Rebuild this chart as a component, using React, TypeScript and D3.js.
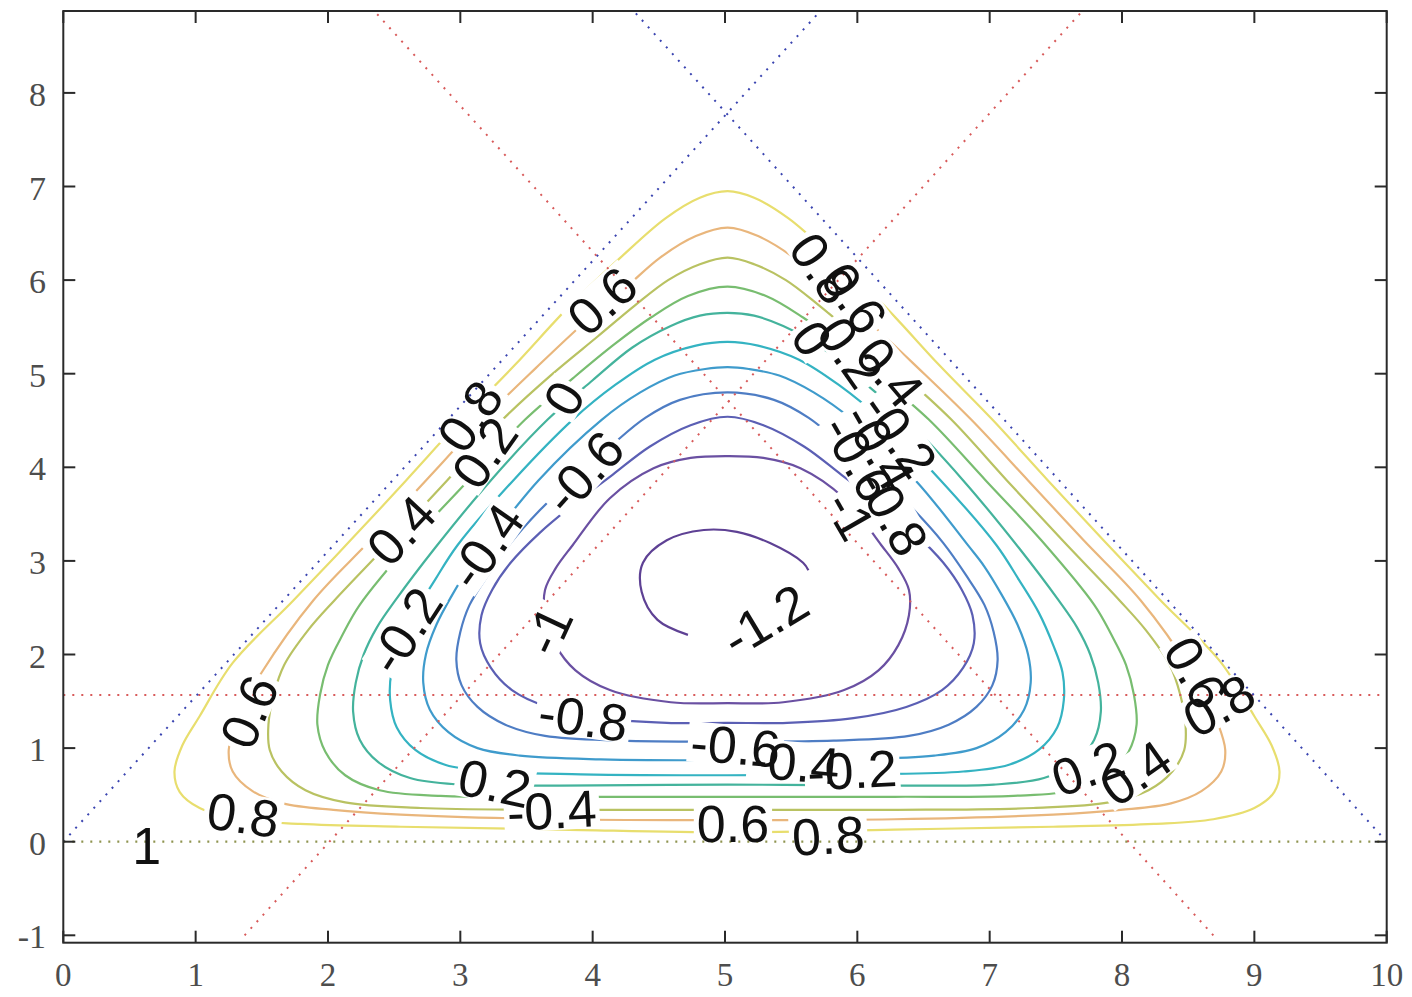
import React, { useRef, useEffect } from "react";
import * as d3 from "d3";

const xTicks = [0, 1, 2, 3, 4, 5, 6, 7, 8, 9, 10];
const yTicks = [-1, 0, 1, 2, 3, 4, 5, 6, 7, 8];

// contour lines, [x, y] in data units
const level08 = [[5.02,0.10],[3.75,0.13],[2.55,0.16],[1.79,0.19],[1.34,0.24],[1.03,0.36],[0.88,0.53],[0.84,0.75],[0.90,1.03],[1.03,1.34],[1.28,1.91],[1.74,2.58],[2.17,3.22],[2.59,3.86],[3.01,4.51],[3.41,5.09],[3.83,5.73],[4.21,6.24],[4.55,6.66],[4.81,6.88],[5.02,6.95],
  [5.22,6.88],[5.48,6.66],[5.82,6.24],[6.20,5.73],[6.62,5.09],[7.02,4.51],[7.44,3.86],[7.86,3.22],[8.29,2.58],[8.75,1.91],[9.00,1.34],[9.13,1.03],[9.19,0.75],[9.15,0.53],[9.00,0.36],[8.69,0.24],[8.24,0.19],[7.48,0.16],[6.28,0.13]];
const level06 = [[5.02,0.23],[3.75,0.24],[2.55,0.29],[2.04,0.34],[1.66,0.41],[1.43,0.54],[1.28,0.75],[1.25,0.98],[1.31,1.28],[1.40,1.55],[1.50,1.81],[1.89,2.58],[2.32,3.22],[2.74,3.86],[3.17,4.51],[3.57,5.06],[3.94,5.55],[4.25,5.92],[4.51,6.24],[4.78,6.47],[5.02,6.56],
  [5.25,6.47],[5.52,6.24],[5.78,5.92],[6.09,5.55],[6.46,5.06],[6.86,4.51],[7.29,3.86],[7.71,3.22],[8.14,2.58],[8.53,1.81],[8.63,1.55],[8.72,1.28],[8.78,0.98],[8.75,0.75],[8.60,0.54],[8.37,0.41],[7.99,0.34],[7.48,0.29],[6.28,0.24]];
const level04 = [[5.02,0.34],[3.75,0.34],[2.70,0.36],[2.13,0.42],[1.83,0.55],[1.65,0.75],[1.56,0.98],[1.55,1.25],[1.59,1.57],[1.67,1.89],[1.85,2.26],[2.05,2.58],[2.48,3.22],[2.90,3.86],[3.32,4.51],[3.69,4.99],[4.04,5.40],[4.32,5.73],[4.57,6.00],[4.81,6.17],[5.02,6.24],
  [5.22,6.17],[5.46,6.00],[5.71,5.73],[5.99,5.40],[6.34,4.99],[6.71,4.51],[7.13,3.86],[7.55,3.22],[7.98,2.58],[8.18,2.26],[8.36,1.89],[8.44,1.57],[8.48,1.25],[8.47,0.98],[8.38,0.75],[8.20,0.55],[7.90,0.42],[7.33,0.36],[6.28,0.34]];
const level02 = [[5.02,0.48],[3.75,0.48],[2.85,0.49],[2.39,0.55],[2.13,0.71],[1.98,0.96],[1.92,1.25],[1.94,1.57],[2.00,1.89],[2.11,2.21],[2.24,2.53],[2.64,3.22],[3.06,3.86],[3.49,4.51],[3.85,4.95],[4.16,5.31],[4.44,5.60],[4.72,5.83],[5.02,5.93],
  [5.31,5.83],[5.59,5.60],[5.87,5.31],[6.18,4.95],[6.54,4.51],[6.97,3.86],[7.39,3.22],[7.79,2.53],[7.92,2.21],[8.03,1.89],[8.09,1.57],[8.11,1.25],[8.05,0.96],[7.90,0.71],[7.64,0.55],[7.18,0.49],[6.28,0.48]];
const level00 = [[5.02,0.61],[3.75,0.60],[3.00,0.61],[2.62,0.68],[2.38,0.85],[2.24,1.09],[2.19,1.39],[2.21,1.70],[2.27,2.00],[2.37,2.29],[2.51,2.58],[2.81,3.14],[3.23,3.86],[3.66,4.51],[4.00,4.93],[4.30,5.28],[4.59,5.51],[4.81,5.62],[5.02,5.65],
  [5.22,5.62],[5.44,5.51],[5.73,5.28],[6.03,4.93],[6.37,4.51],[6.80,3.86],[7.22,3.14],[7.52,2.58],[7.66,2.29],[7.76,2.00],[7.82,1.70],[7.84,1.39],[7.79,1.09],[7.65,0.85],[7.41,0.68],[7.03,0.61],[6.28,0.60]];
const levelM02 = [[5.02,0.71],[3.91,0.72],[3.23,0.75],[2.89,0.82],[2.66,0.98],[2.52,1.22],[2.47,1.51],[2.48,1.81],[2.55,2.10],[2.66,2.45],[2.81,2.80],[2.98,3.17],[3.40,3.86],[3.85,4.51],[4.17,4.88],[4.47,5.15],[4.78,5.30],[5.02,5.34],
  [5.25,5.30],[5.56,5.15],[5.86,4.88],[6.18,4.51],[6.63,3.86],[7.05,3.17],[7.22,2.80],[7.37,2.45],[7.48,2.10],[7.55,1.81],[7.56,1.51],[7.51,1.22],[7.37,0.98],[7.14,0.82],[6.80,0.75],[6.12,0.72]];
const levelM04 = [[5.02,0.87],[4.06,0.88],[3.45,0.92],[3.13,1.00],[2.91,1.17],[2.77,1.41],[2.72,1.70],[2.74,2.00],[2.82,2.32],[2.94,2.64],[3.07,2.94],[3.19,3.16],[3.59,3.86],[4.07,4.51],[4.36,4.80],[4.62,4.98],[4.85,5.05],[5.02,5.07],
  [5.18,5.05],[5.41,4.98],[5.67,4.80],[5.96,4.51],[6.44,3.86],[6.84,3.16],[6.96,2.94],[7.09,2.64],[7.21,2.32],[7.29,2.00],[7.31,1.70],[7.26,1.41],[7.12,1.17],[6.90,1.00],[6.58,0.92],[5.97,0.88]];
const levelM06 = [[5.02,1.07],[4.21,1.08],[3.64,1.13],[3.34,1.25],[3.13,1.44],[3.01,1.67],[2.97,1.94],[3.00,2.24],[3.07,2.53],[3.21,2.85],[3.38,3.19],[3.60,3.54],[3.87,3.91],[4.13,4.22],[4.40,4.53],[4.66,4.72],[5.02,4.80],
  [5.37,4.72],[5.63,4.53],[5.90,4.22],[6.16,3.91],[6.43,3.54],[6.65,3.19],[6.82,2.85],[6.96,2.53],[7.03,2.24],[7.06,1.94],[7.02,1.67],[6.90,1.44],[6.69,1.25],[6.39,1.13],[5.82,1.08]];
const levelM08 = [[5.02,1.27],[4.56,1.27],[4.06,1.32],[3.66,1.44],[3.39,1.62],[3.23,1.86],[3.15,2.12],[3.16,2.42],[3.24,2.69],[3.38,2.98],[3.60,3.30],[3.87,3.62],[4.15,3.92],[4.43,4.22],[4.74,4.45],[5.02,4.54],
  [5.29,4.45],[5.60,4.22],[5.88,3.92],[6.16,3.62],[6.43,3.30],[6.65,2.98],[6.79,2.69],[6.87,2.42],[6.88,2.12],[6.80,1.86],[6.64,1.62],[6.37,1.44],[5.97,1.32],[5.47,1.27]];
const levelM10 = [[5.02,1.48],[4.59,1.49],[4.13,1.62],[3.87,1.83],[3.72,2.10],[3.64,2.42],[3.64,2.69],[3.72,2.92],[3.85,3.17],[4.13,3.67],[4.46,3.99],[4.74,4.10],[5.02,4.12],
  [5.29,4.10],[5.57,3.99],[5.90,3.67],[6.18,3.17],[6.31,2.92],[6.39,2.69],[6.39,2.42],[6.31,2.10],[6.16,1.83],[5.90,1.62],[5.44,1.49]];
const levelM12 = [[4.72,2.21],[4.49,2.37],[4.37,2.67],[4.38,2.98],[4.56,3.22],[4.84,3.33],[5.09,3.31],[5.34,3.19],[5.59,2.98],[5.63,2.90]];

const contours = [
  { level: 0.8, points: level08, closed: true },
  { level: 0.6, points: level06, closed: true },
  { level: 0.4, points: level04, closed: true },
  { level: 0.2, points: level02, closed: true },
  { level: 0, points: level00, closed: true },
  { level: -0.2, points: levelM02, closed: true },
  { level: -0.4, points: levelM04, closed: true },
  { level: -0.6, points: levelM06, closed: true },
  { level: -0.8, points: levelM08, closed: true },
  { level: -1, points: levelM10, closed: true },
  { level: -1.2, points: levelM12, closed: false },
];

// contour labels as placed in the picture
const contourLabels = [
  { text: "0.6", x: 4.07, y: 5.78, angle: -42 },
  { text: "0.8", x: 3.07, y: 4.55, angle: -55 },
  { text: "0.2", x: 3.18, y: 4.16, angle: -55 },
  { text: "0", x: 3.78, y: 4.74, angle: -60 },
  { text: "0.4", x: 2.55, y: 3.33, angle: -47 },
  { text: "-0.4", x: 3.19, y: 3.16, angle: -55 },
  { text: "-0.2", x: 2.58, y: 2.26, angle: -57 },
  { text: "-0.6", x: 3.93, y: 3.95, angle: -48 },
  { text: "-1", x: 3.66, y: 2.26, angle: -65 },
  { text: "-1.2", x: 5.3, y: 2.37, angle: -31 },
  { text: "-0.8", x: 3.93, y: 1.33, angle: 8 },
  { text: "-0.6", x: 5.08, y: 1.03, angle: 5 },
  { text: "-0.4", x: 5.53, y: 0.85, angle: 5 },
  { text: "-0.2", x: 5.96, y: 0.77, angle: -3 },
  { text: "0.6", x: 5.06, y: 0.2, angle: 0 },
  { text: "0.8", x: 5.78, y: 0.07, angle: -3 },
  { text: "0.2", x: 3.26, y: 0.63, angle: 12 },
  { text: "-0.4", x: 3.69, y: 0.34, angle: -3 },
  { text: "0.8", x: 1.36, y: 0.29, angle: 8 },
  { text: "0.6", x: 1.4, y: 1.39, angle: -67 },
  { text: "1", x: 0.63, y: -0.04, angle: 0 },
  { text: "0.2", x: 7.74, y: 0.79, angle: -20 },
  { text: "0.4", x: 8.1, y: 0.74, angle: -35 },
  { text: "0.6", x: 8.56, y: 1.81, angle: 60 },
  { text: "0.8", x: 8.73, y: 1.46, angle: -30 },
  { text: "0.8", x: 5.74, y: 6.13, angle: 55 },
  { text: "0.6", x: 5.98, y: 5.81, angle: 55 },
  { text: "0", x: 5.66, y: 5.38, angle: 55 },
  { text: "0.2", x: 5.95, y: 5.23, angle: 55 },
  { text: "0.4", x: 6.25, y: 5.02, angle: 50 },
  { text: "-0.2", x: 6.32, y: 4.35, angle: 55 },
  { text: "-0.4", x: 6.17, y: 4.22, angle: 60 },
  { text: "-0.6", x: 6.01, y: 4.1, angle: 60 },
  { text: "-1", x: 5.95, y: 3.49, angle: 60 },
  { text: "-0.8", x: 6.27, y: 3.52, angle: 60 },
];

// dotted guide lines
const blueLines = [
  [[0, 0], [5.72, 8.875]],
  [[10, 0], [4.31, 8.875]],
];
const baseLine = [[0, 0], [10, 0]];
const redLines = [
  [[0, 1.567], [10, 1.567]],
  [[1.37, -1.0], [7.7, 8.875]],
  [[8.69, -1.0], [2.35, 8.875]],
];

const levelColors = {
  "0.8": "#e8de6e",
  "0.6": "#e9b67c",
  "0.4": "#b9c262",
  "0.2": "#78bd70",
  "0": "#44b39c",
  "-0.2": "#34b3c2",
  "-0.4": "#3f9bcc",
  "-0.6": "#4e7dc4",
  "-0.8": "#5b5fb4",
  "-1": "#6a50a2",
  "-1.2": "#5e4194",
};

const LABEL_SIZE = 52;
const charWidth = (c) => (c === "." ? 0.278 : c === "-" ? 0.333 : 0.556);
const textWidth = (t) => t.split("").reduce((s, c) => s + charWidth(c), 0) * LABEL_SIZE;

const ContourChart = () => {
  const svgRef = useRef();

  useEffect(() => {
    const svg = d3.select(svgRef.current);
    svg.selectAll("*").remove();

    const width = 1412;
    const height = 997;
    const margin = { top: 11, right: 25.3, bottom: 54.3, left: 63.3 };

    const x = d3.scaleLinear().domain([0, 10]).range([margin.left, width - margin.right]);
    const y = d3.scaleLinear().domain([-1.079, 8.875]).range([height - margin.bottom, margin.top]);

    svg.append("rect").attr("width", width).attr("height", height).attr("fill", "#fff");

    const defs = svg.append("defs");
    defs
      .append("clipPath")
      .attr("id", "plotArea")
      .append("rect")
      .attr("x", margin.left)
      .attr("y", margin.top)
      .attr("width", width - margin.left - margin.right)
      .attr("height", height - margin.top - margin.bottom);

    // gaps in the contour lines behind the labels
    const mask = defs
      .append("mask")
      .attr("id", "labelGaps")
      .attr("maskUnits", "userSpaceOnUse")
      .attr("x", 0)
      .attr("y", 0)
      .attr("width", width)
      .attr("height", height);
    mask.append("rect").attr("width", width).attr("height", height).attr("fill", "white");
    mask
      .selectAll("rect.gap")
      .data(contourLabels)
      .enter()
      .append("rect")
      .attr("class", "gap")
      .attr("x", (d) => -textWidth(d.text) / 2 - 3)
      .attr("y", -LABEL_SIZE * 0.39)
      .attr("width", (d) => textWidth(d.text) + 6)
      .attr("height", LABEL_SIZE * 0.78)
      .attr("transform", (d) => `translate(${x(d.x)},${y(d.y)}) rotate(${d.angle})`)
      .attr("fill", "black");

    const plot = svg.append("g").attr("clip-path", "url(#plotArea)");

    // Contours
    const closedLine = d3
      .line()
      .x((d) => x(d[0]))
      .y((d) => y(d[1]))
      .curve(d3.curveCatmullRomClosed.alpha(0.5));
    const openLine = d3
      .line()
      .x((d) => x(d[0]))
      .y((d) => y(d[1]))
      .curve(d3.curveCatmullRom.alpha(0.5));

    plot
      .append("g")
      .attr("mask", "url(#labelGaps)")
      .selectAll("path")
      .data(contours)
      .enter()
      .append("path")
      .attr("d", (d) => (d.closed ? closedLine(d.points) : openLine(d.points)))
      .attr("fill", "none")
      .attr("stroke", (d) => levelColors[String(d.level)])
      .attr("stroke-width", 2.2);

    // Dotted guide lines
    const straight = d3
      .line()
      .x((d) => x(d[0]))
      .y((d) => y(d[1]));

    plot
      .selectAll("path.red")
      .data(redLines)
      .enter()
      .append("path")
      .attr("class", "red")
      .attr("d", straight)
      .attr("fill", "none")
      .attr("stroke", "#d85a5a")
      .attr("stroke-width", 2)
      .attr("stroke-dasharray", "2 7");

    plot
      .selectAll("path.blue")
      .data(blueLines)
      .enter()
      .append("path")
      .attr("class", "blue")
      .attr("d", straight)
      .attr("fill", "none")
      .attr("stroke", "#3a44b0")
      .attr("stroke-width", 2)
      .attr("stroke-dasharray", "2 7");

    plot
      .append("path")
      .attr("d", straight(baseLine))
      .attr("fill", "none")
      .attr("stroke", "#8f9450")
      .attr("stroke-width", 2.2)
      .attr("stroke-dasharray", "2 7");

    // Labels
    svg
      .append("g")
      .selectAll("text")
      .data(contourLabels)
      .enter()
      .append("text")
      .attr("transform", (d) => `translate(${x(d.x)},${y(d.y)}) rotate(${d.angle})`)
      .attr("text-anchor", "middle")
      .attr("dy", "0.36em")
      .attr("fill", "#111")
      .style("font-family", "'Liberation Sans', Arial, sans-serif")
      .style("font-size", `${LABEL_SIZE}px`)
      .text((d) => d.text);

    // Frame and ticks
    const x0 = margin.left;
    const x1 = width - margin.right;
    const y0 = height - margin.bottom;
    const y1 = margin.top;
    const tick = 12;
    const axis = svg.append("g").attr("stroke", "#2a2a2a").attr("stroke-width", 2);

    xTicks.forEach((t) => {
      axis.append("line").attr("x1", x(t)).attr("x2", x(t)).attr("y1", y0).attr("y2", y0 - tick);
      axis.append("line").attr("x1", x(t)).attr("x2", x(t)).attr("y1", y1).attr("y2", y1 + tick);
    });
    yTicks.forEach((t) => {
      axis.append("line").attr("x1", x0).attr("x2", x0 + tick).attr("y1", y(t)).attr("y2", y(t));
      axis.append("line").attr("x1", x1).attr("x2", x1 - tick).attr("y1", y(t)).attr("y2", y(t));
    });
    axis
      .append("rect")
      .attr("x", x0)
      .attr("y", y1)
      .attr("width", x1 - x0)
      .attr("height", y0 - y1)
      .attr("fill", "none");

    const tickFont = "'Liberation Serif', 'Times New Roman', serif";
    svg
      .append("g")
      .selectAll("text")
      .data(xTicks)
      .enter()
      .append("text")
      .attr("x", (d) => x(d))
      .attr("y", 986)
      .attr("text-anchor", "middle")
      .attr("fill", "#4d4d4d")
      .style("font-family", tickFont)
      .style("font-size", "33px")
      .text((d) => d);

    svg
      .append("g")
      .selectAll("text")
      .data(yTicks)
      .enter()
      .append("text")
      .attr("x", 46)
      .attr("y", (d) => y(d) + 13)
      .attr("text-anchor", "end")
      .attr("fill", "#4d4d4d")
      .style("font-family", tickFont)
      .style("font-size", "34px")
      .text((d) => d);
  }, []);

  return (
    <div style={styles.page}>
      <svg ref={svgRef} width={1412} height={997}></svg>
    </div>
  );
};

const styles = {
  page: {
    position: "absolute",
    left: 0,
    top: 0,
    width: "1412px",
    height: "997px",
    background: "#fff",
  },
};

export default ContourChart;
